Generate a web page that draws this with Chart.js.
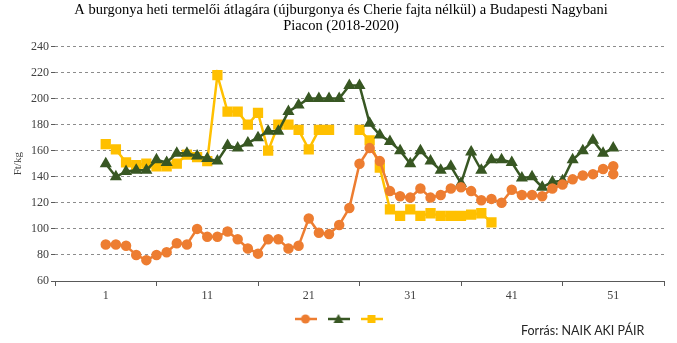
<!DOCTYPE html>
<html>
<head>
<meta charset="utf-8">
<script src="https://cdn.jsdelivr.net/npm/chart.js@4/dist/chart.umd.min.js"></script>
<style>
    html, body { margin: 0; padding: 0; background: #fff; }
    #wrap { position: relative; width: 677px; height: 343px; }
    #forras { position: absolute; left: 521px; top: 323px; font: 12.5px Lato, 'Open Sans', sans-serif; color: #262626; }
</style>
</head>
<body>
<div id="wrap">
    <canvas id="chartBurgonya" width="677" height="343"></canvas>
    <div id="forras">Forrás: NAIK AKI PÁIR</div>
</div>
<script>
// ===========================================
// Burgonya heti termelői átlagára - Budapesti Nagybani Piac (2018-2020)
// ===========================================

const weeks = [1, 2, 3, 4, 5, 6, 7, 8, 9, 10, 11, 12, 13, 14, 15, 16, 17, 18, 19, 20,
    21, 22, 23, 24, 25, 26, 27, 28, 29, 30, 31, 32, 33, 34, 35, 36, 37, 38, 39, 40,
    41, 42, 43, 44, 45, 46, 47, 48, 49, 50, 51];

// narancs (kör)
const arNarancs = [88, 88, 87, 80, 76, 80, 82, 89, 88, 100, 94, 94, 98, 92, 85, 81, 92, 92, 85, 87,
    108, 97, 96, 103, 116, 150, 162, 152, 129, 125, 124, 131, 124, 126, 131, 132, 129, 122, 123, 120,
    130, 126, 126, 125, 131, 134, 138, 141, 142, 146, 148];
const narancsUtolsoHet = 51;
const narancsUtolsoAr = 142;

// sötétzöld (háromszög)
const arZold = [150, 140, 144, 145, 145, 153, 151, 158, 158, 156, 154, 152, 164, 162, 166, 170, 175, 175, 190, 195,
    200, 200, 200, 200, 210, 210, 181, 172, 167, 160, 150, 160, 152, 145, 148, 135, 159, 145, 153, 153,
    151, 139, 140, 132, 136, 137, 153, 160, 168, 158, 162];

// sárga (négyzet)
const arSarga = [165, 161, 151, 149, 150, 148, 148, 150, 157, 155, 152, 218, 190, 190, 180, 189, 160, 180, 180, 176,
    161, 176, 176, null, null, 176, 168, 147, 115, 110, 115, 110, 112, 110, 110, 110, 111, 112, 105, null,
    null, null, null, null, null, null, null, null, null, null, null];

const xTickLabels = [1, 11, 21, 31, 41, 51];
const yMin = 60, yMax = 240, yStep = 20;

const szinNarancs = '#ED7D31';
const szinZold = '#385723';
const szinSarga = '#FFC000';

const toPoints = (vals) => weeks.map((w, i) => ({ x: w, y: vals[i] }));

// legend ikon: vonal + jelölő
function legendIcon(color, style) {
    const c = document.createElement('canvas');
    c.width = 22; c.height = 12;
    const g = c.getContext('2d');
    g.strokeStyle = color; g.lineWidth = 2.5;
    g.beginPath(); g.moveTo(0, 6); g.lineTo(22, 6); g.stroke();
    g.fillStyle = color;
    g.beginPath();
    if (style === 'circle') g.arc(11, 6, 4.5, 0, Math.PI * 2);
    else if (style === 'triangle') { g.moveTo(11, 1); g.lineTo(16, 10); g.lineTo(6, 10); g.closePath(); }
    else g.rect(7, 2, 8, 8);
    g.fill();
    return c;
}

const ikonok = [legendIcon(szinNarancs, 'circle'), legendIcon(szinZold, 'triangle'), legendIcon(szinSarga, 'rect')];

const serif = "'Liberation Serif', 'DejaVu Serif', serif";

new Chart(document.getElementById('chartBurgonya').getContext('2d'), {
    type: 'line',
    data: {
        datasets: [{
            label: '',
            data: toPoints(arNarancs).concat([{ x: narancsUtolsoHet, y: narancsUtolsoAr }]),
            borderColor: szinNarancs,
            backgroundColor: szinNarancs,
            pointStyle: 'circle',
            pointRadius: 4,
            borderWidth: 2.5
        }, {
            label: '',
            data: toPoints(arZold),
            borderColor: szinZold,
            backgroundColor: szinZold,
            pointStyle: 'triangle',
            pointRadius: 4.5,
            borderWidth: 2.5
        }, {
            label: '',
            data: toPoints(arSarga),
            borderColor: szinSarga,
            backgroundColor: szinSarga,
            pointStyle: 'rect',
            pointRadius: 5.5,
            borderWidth: 2.5,
            spanGaps: false
        }]
    },
    options: {
        responsive: false,
        animation: false,
        layout: { padding: { top: 3, right: 13, bottom: 9, left: 18 } },
        elements: { line: { tension: 0 }, point: { borderWidth: 0 } },
        plugins: {
            title: {
                display: true,
                text: ['A burgonya heti termelői átlagára (újburgonya és Cherie fajta nélkül) a Budapesti Nagybani',
                    'Piacon (2018-2020)'],
                font: { family: serif, size: 14.5, weight: 'normal', lineHeight: 1.05 },
                color: '#000',
                padding: { top: 0, bottom: 13 }
            },
            legend: {
                position: 'bottom',
                labels: {
                    usePointStyle: true,
                    pointStyleWidth: 22,
                    font: { size: 10 },
                    padding: 6,
                    generateLabels: chart => chart.data.datasets.map((ds, i) => ({
                        text: '',
                        pointStyle: ikonok[i],
                        datasetIndex: i,
                        lineWidth: 0,
                        fillStyle: ds.borderColor,
                        strokeStyle: ds.borderColor
                    }))
                }
            },
            tooltip: { enabled: false }
        },
        scales: {
            x: {
                type: 'linear',
                min: xTickLabels[0] - 5,
                max: xTickLabels[xTickLabels.length - 1] + 5,
                afterBuildTicks: scale => {
                    const t = [];
                    xTickLabels.forEach(v => { t.push({ value: v - 5 }); t.push({ value: v }); });
                    t.push({ value: xTickLabels[xTickLabels.length - 1] + 5 });
                    scale.ticks = t;
                },
                afterFit: scale => { scale.height = 27; },
                ticks: {
                    autoSkip: false,
                    maxRotation: 0,
                    padding: 3,
                    color: '#404040',
                    font: { family: serif, size: 12 },
                    callback: v => xTickLabels.includes(v) ? String(v) : ''
                },
                grid: {
                    drawOnChartArea: false,
                    drawTicks: true,
                    tickLength: 5,
                    color: ctx => (ctx.tick && xTickLabels.includes(ctx.tick.value)) ? 'rgba(0,0,0,0)' : '#595959'
                },
                border: { display: true, color: '#595959', width: 1 }
            },
            y: {
                min: yMin,
                max: yMax,
                afterFit: scale => { scale.width = 37; },
                ticks: {
                    stepSize: yStep,
                    padding: 2,
                    color: '#404040',
                    font: { family: serif, size: 12 }
                },
                title: {
                    display: true,
                    text: 'Ft/kg',
                    color: '#404040',
                    font: { family: serif, size: 11 },
                    padding: { top: -6, bottom: 0 }
                },
                grid: {
                    color: ctx => ctx.tick && ctx.tick.value === yMin ? 'rgba(0,0,0,0)' : '#8c8c8c',
                    tickColor: '#595959',
                    tickLength: 4,
                    lineWidth: 1
                },
                border: { display: false, dash: [3, 3], dashOffset: 0 }
            }
        }
    }
});
</script>
</body>
</html>
